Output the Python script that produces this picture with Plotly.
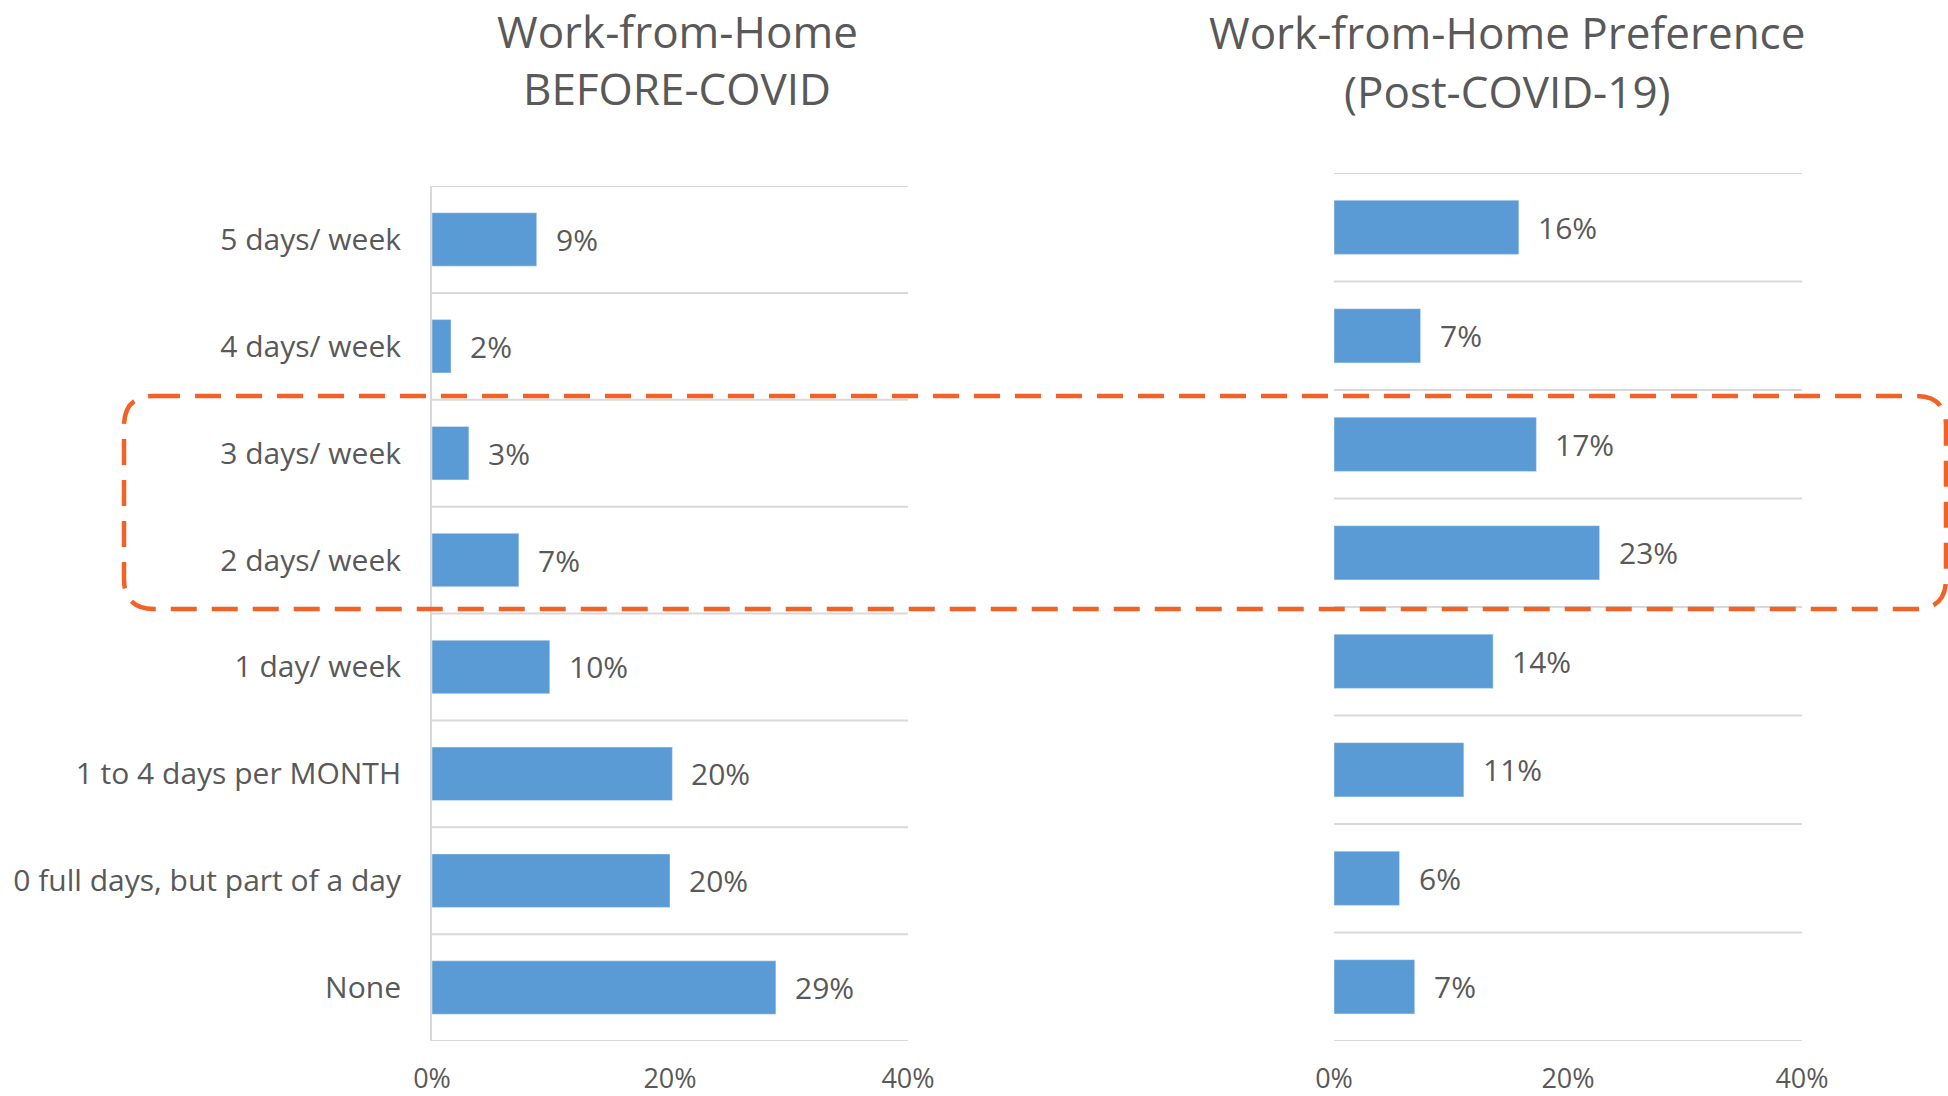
import plotly.graph_objects as go

# ---------------- data ----------------
categories = ["5 days/ week", "4 days/ week", "3 days/ week", "2 days/ week",
              "1 day/ week", "1 to 4 days per MONTH",
              "0 full days, but part of a day", "None"]
before_covid = [8.8, 1.6, 3.1, 7.3, 9.9, 20.2, 20.0, 28.9]
post_covid = [15.8, 7.4, 17.3, 22.7, 13.6, 11.1, 5.6, 6.9]
x_ticks = [0, 20, 40]
x_tick_labels = ["0%", "20%", "40%"]
title_left = ["Work-from-Home", "BEFORE-COVID"]
title_right = ["Work-from-Home Preference", "(Post-COVID-19)"]

# ---------------- style ----------------
W, H = 1948, 1096
FONT = "Open Sans"
TXT = "#595959"
BAR = "#5B9BD5"
GRID = "#D9D9D9"
ORANGE = "#F26227"


def px_x(p):
    return p / W


def px_y(p):
    return 1 - p / H


rows = list(range(len(categories)))
bounds = [i - 0.5 for i in range(len(categories) + 1)]

fig = go.Figure()
fig.add_trace(go.Bar(x=before_covid, y=rows, orientation="h", marker_color=BAR,
                     xaxis="x", yaxis="y", hoverinfo="skip"))
fig.add_trace(go.Bar(x=post_covid, y=rows, orientation="h", marker_color=BAR,
                     xaxis="x2", yaxis="y2", hoverinfo="skip"))

annotations = []
for xa, ya, vals in (("x", "y", before_covid), ("x2", "y2", post_covid)):
    for i, v in enumerate(vals):
        annotations.append(dict(x=v, y=i, xref=xa, yref=ya, text=f"{round(v)}%",
                                showarrow=False, xanchor="left", yanchor="middle",
                                xshift=17, font=dict(family=FONT, size=30, color=TXT)))

for lines, cx, cys in ((title_left, 677, (31, 88)), (title_right, 1507, (32, 91))):
    for line, cy in zip(lines, cys):
        annotations.append(dict(x=px_x(cx), y=px_y(cy), xref="paper", yref="paper",
                                text=line, showarrow=False, xanchor="center", yanchor="middle",
                                font=dict(family=FONT, size=44, color=TXT)))

shapes = []
# horizontal separators between categories
for xd, ya in (("x domain", "y"), ("x2 domain", "y2")):
    for b in bounds:
        shapes.append(dict(type="line", xref=xd, yref=ya, x0=0, x1=1, y0=b, y1=b,
                           line=dict(color=GRID, width=2), layer="below"))

# rounded dashed highlight box (pixel geometry -> paper coords)
L, T, R, B, r = 124, 396, 1946, 609, 30


def P(x, y):
    return f"{px_x(x):.5f},{px_y(y):.5f}"


path = (f"M {P(L + r, T)} L {P(R - r, T)} Q {P(R, T)} {P(R, T + r)} "
        f"L {P(R, B - r)} Q {P(R, B)} {P(R - r, B)} "
        f"L {P(L + r, B)} Q {P(L, B)} {P(L, B - r)} "
        f"L {P(L, T + r)} Q {P(L, T)} {P(L + r, T)} Z")
shapes.append(dict(type="path", path=path, xref="paper", yref="paper",
                   line=dict(color=ORANGE, width=4.5, dash="26px,15px"),
                   fillcolor="rgba(0,0,0,0)", layer="above"))

xaxis_common = dict(range=[0, 40], tickvals=x_ticks, ticktext=x_tick_labels,
                    showgrid=False, zeroline=False, showline=False, automargin=False,
                    ticks="outside", ticklen=14, tickcolor="rgba(0,0,0,0)",
                    tickfont=dict(family=FONT, size=27, color=TXT), fixedrange=True)
yaxis_common = dict(range=[len(categories) - 0.5, -0.5], zeroline=False, showgrid=False,
                    automargin=False, fixedrange=True)

fig.update_layout(
    width=W, height=H,
    margin=dict(l=0, r=0, t=0, b=0, pad=0),
    paper_bgcolor="white", plot_bgcolor="white",
    showlegend=False, bargap=0.5,
    xaxis=dict(domain=[px_x(432), px_x(908)], anchor="y", **xaxis_common),
    xaxis2=dict(domain=[px_x(1334), px_x(1802)], anchor="y2", **xaxis_common),
    yaxis=dict(domain=[px_y(1041), px_y(186)], anchor="x", tickvals=rows, ticktext=categories,
               showline=True, linecolor=GRID, linewidth=2,
               ticks="outside", ticklen=23, tickcolor="rgba(0,0,0,0)",
               tickfont=dict(family=FONT, size=30, color=TXT), **yaxis_common),
    yaxis2=dict(domain=[px_y(1041), px_y(173)], anchor="x2", showticklabels=False,
                showline=False, **yaxis_common),
    annotations=annotations,
    shapes=shapes,
)

fig.write_html("out.html", config={"displayModeBar": False},
               post_script="document.body.style.margin='0';document.body.style.overflow='hidden';")
